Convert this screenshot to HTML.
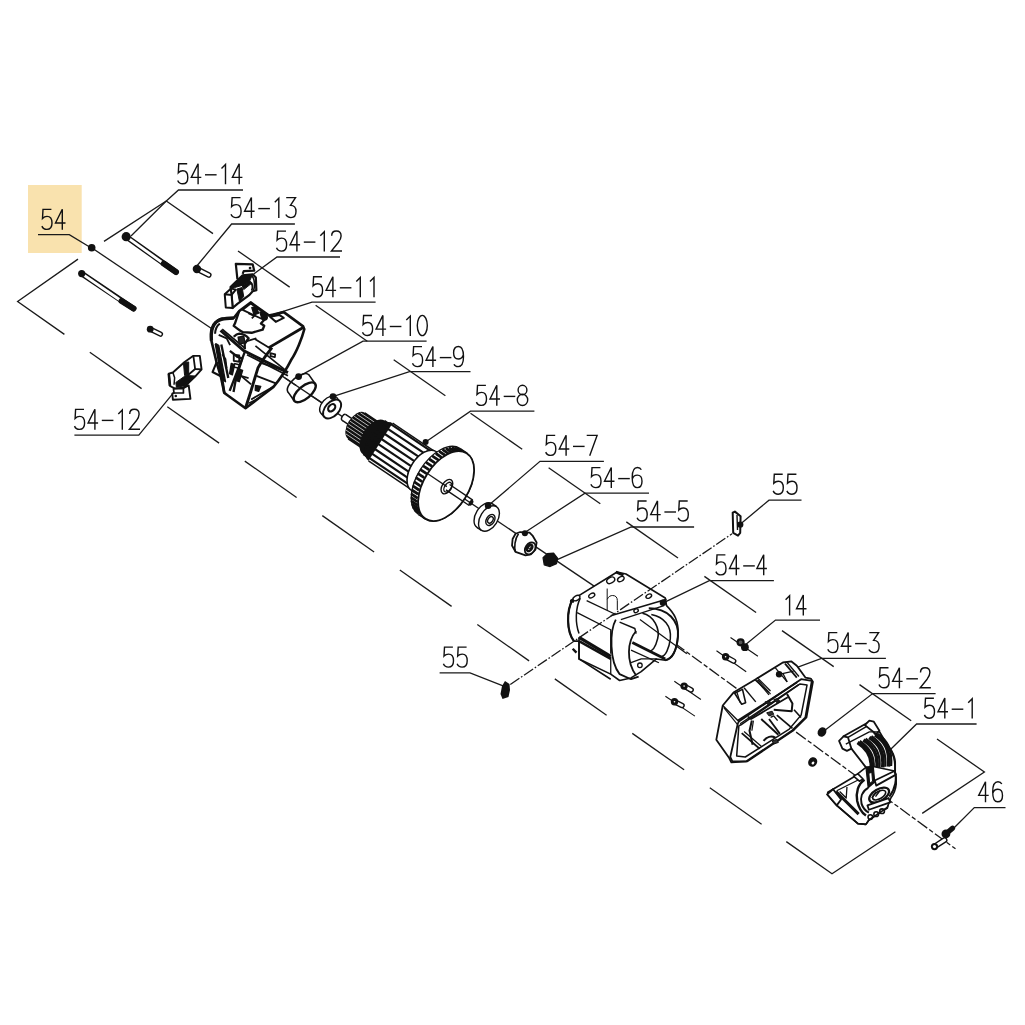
<!DOCTYPE html><html><head><meta charset="utf-8"><style>html,body{margin:0;padding:0;background:#fff;width:1025px;height:1025px;overflow:hidden;font-family:"Liberation Sans",sans-serif}svg{display:block}.t use{fill:none;stroke:#111;stroke-width:1.4}.l{fill:none;stroke:#1a1a1a;stroke-width:1.3}.p{fill:none;stroke:#111;stroke-width:1.4;stroke-linejoin:round}.pw{fill:#fff;stroke:#111;stroke-width:1.4;stroke-linejoin:round}.k{fill:#111}.dd{fill:none;stroke:#1a1a1a;stroke-width:1.3;stroke-dasharray:11 2 1.6 2}</style></head><body>
<svg width="1025" height="1025" viewBox="0 0 1025 1025">
<defs>
<g id="g5"><path d="M10,0.6 H1.6 L1.1,9.6 C2.4,8.2 3.9,7.6 5.6,7.6 C8.8,7.6 10.6,10.2 10.6,14.2 C10.6,18.4 8.6,20.6 5.5,20.6 C3.2,20.6 1.4,19.4 0.5,17.3"/></g>
<g id="g4"><path d="M7.2,21 V0.5 L0.4,14.2 H10.4"/></g>
<g id="gd"><path d="M0.4,11.6 H12"/></g>
<g id="g8"><ellipse cx="5.5" cy="5.2" rx="4.4" ry="4.7"/><ellipse cx="5.5" cy="15.1" rx="5.2" ry="5.6"/></g>
<g id="g1"><path d="M3.2,5.2 L7.2,1.2 V21"/></g>
<g id="g2"><path d="M0.9,5.2 C0.9,2.2 2.8,0.5 5.5,0.5 C8.4,0.5 10.3,2.5 10.3,5.4 C10.3,8 9,10 7.5,12 L0.6,20.5 H11.2"/></g>
<g id="g3"><path d="M0.9,0.6 H10.2 L5.2,8.4 C8.7,8.4 10.7,10.8 10.7,14.5 C10.7,18.5 8.6,20.6 5.6,20.6 C3.2,20.6 1.5,19.5 0.5,17.5"/></g>
<g id="g0"><ellipse cx="5.5" cy="10.6" rx="5" ry="10.1"/></g>
<g id="g6"><path d="M9.8,2.8 C9.1,1.3 7.7,0.5 6,0.5 C2.6,0.5 0.7,4 0.7,10.5 C0.7,17.5 2.6,20.6 5.6,20.6 C8.7,20.6 10.5,18 10.5,14.2 C10.5,10.4 8.6,8.1 5.8,8.1 C3.5,8.1 1.6,9.5 0.8,12"/></g>
<g id="g7"><path d="M0.4,0.6 H10.8 L3.4,21"/></g>
<g id="g9"><path d="M0.9,18.2 C1.6,19.8 3,20.6 5,20.6 C8.5,20.6 10.4,17 10.4,10.5 C10.4,3.5 8.4,0.5 5.4,0.5 C2.3,0.5 0.5,3 0.5,6.8 C0.5,10.6 2.4,13 5.2,13 C7.5,13 9.4,11.5 10.2,9"/></g>
</defs>
<rect width="1025" height="1025" fill="#fff"/>
<rect x="28" y="185" width="53.7" height="68" fill="#F9E2AE"/>
<polyline class="l" points="78.0,259.1 17.6,301.5 64.4,334.4"/>
<polyline class="l" points="89.8,352.2 141.6,388.6"/>
<polyline class="l" points="167.3,406.7 219.1,443.1"/>
<polyline class="l" points="244.8,461.1 296.6,497.5"/>
<polyline class="l" points="322.3,515.6 374.1,552.0"/>
<polyline class="l" points="399.8,570.0 451.6,606.4"/>
<polyline class="l" points="477.3,624.5 529.1,660.9"/>
<polyline class="l" points="554.8,678.9 606.6,715.3"/>
<polyline class="l" points="632.3,733.4 684.1,769.8"/>
<polyline class="l" points="709.8,787.8 761.6,824.2"/>
<polyline class="l" points="786.3,841.6 832.0,873.7 895.4,831.7"/>
<polyline class="l" points="922.2,813.4 984.4,772.0 937.0,739.0"/>
<polyline class="l" points="104.0,241.4 166.3,201.0 213.0,233.6"/>
<polyline class="l" points="238.0,251.0 289.7,287.1"/>
<polyline class="l" points="315.6,305.2 367.3,341.2"/>
<polyline class="l" points="393.7,359.7 445.4,395.7"/>
<polyline class="l" points="470.5,413.2 522.2,449.3"/>
<polyline class="l" points="548.6,467.7 600.3,503.8"/>
<polyline class="l" points="626.3,521.9 678.0,558.0"/>
<polyline class="l" points="704.4,576.4 756.1,612.5"/>
<polyline class="l" points="782.0,630.6 833.7,666.6"/>
<polyline class="l" points="859.5,684.6 911.2,720.7"/>
<polyline class="l" points="91.7,247.8 596.0,587.4"/>
<g class="t"><use href="#g5" x="41.4" y="208.8"/><use href="#g4" x="55.1" y="208.8"/></g>
<polyline class="l" points="38.0,234.7 69.3,234.7 91.7,248.2"/>
<g class="t"><use href="#g5" x="177.2" y="163.2"/><use href="#g4" x="190.9" y="163.2"/><use href="#gd" x="204.6" y="163.2"/><use href="#g1" x="218.3" y="163.2"/><use href="#g4" x="232.0" y="163.2"/></g>
<polyline class="l" points="243.0,190.0 178.5,190.0 166.3,201.0 131.0,236.0"/>
<g class="t"><use href="#g5" x="230.5" y="197.0"/><use href="#g4" x="244.2" y="197.0"/><use href="#gd" x="257.9" y="197.0"/><use href="#g1" x="271.6" y="197.0"/><use href="#g3" x="285.3" y="197.0"/></g>
<polyline class="l" points="294.9,224.0 231.6,224.0 196.0,267.0"/>
<g class="t"><use href="#g5" x="276.0" y="230.5"/><use href="#g4" x="289.7" y="230.5"/><use href="#gd" x="303.4" y="230.5"/><use href="#g1" x="317.1" y="230.5"/><use href="#g2" x="330.8" y="230.5"/></g>
<polyline class="l" points="340.0,257.0 277.0,257.0 253.7,274.0"/>
<g class="t"><use href="#g5" x="312.0" y="276.2"/><use href="#g4" x="325.7" y="276.2"/><use href="#gd" x="339.4" y="276.2"/><use href="#g1" x="353.1" y="276.2"/><use href="#g1" x="366.8" y="276.2"/></g>
<polyline class="l" points="375.6,302.2 312.0,302.2 264.6,317.3"/>
<g class="t"><use href="#g5" x="362.0" y="314.9"/><use href="#g4" x="375.7" y="314.9"/><use href="#gd" x="389.4" y="314.9"/><use href="#g1" x="403.1" y="314.9"/><use href="#g0" x="416.8" y="314.9"/></g>
<polyline class="l" points="426.6,341.2 363.0,341.2 298.5,376.6"/>
<g class="t"><use href="#g5" x="412.0" y="346.0"/><use href="#g4" x="425.7" y="346.0"/><use href="#gd" x="439.4" y="346.0"/><use href="#g9" x="453.1" y="346.0"/></g>
<polyline class="l" points="470.5,371.7 409.5,371.7 332.7,396.6"/>
<g class="t"><use href="#g5" x="475.9" y="384.8"/><use href="#g4" x="489.6" y="384.8"/><use href="#gd" x="503.3" y="384.8"/><use href="#g8" x="517.0" y="384.8"/></g>
<polyline class="l" points="534.4,411.2 470.5,411.2 425.6,442.0"/>
<g class="t"><use href="#g5" x="545.2" y="434.8"/><use href="#g4" x="558.9" y="434.8"/><use href="#gd" x="572.6" y="434.8"/><use href="#g7" x="586.3" y="434.8"/></g>
<polyline class="l" points="603.9,461.3 540.0,461.3 488.1,505.8"/>
<g class="t"><use href="#g5" x="590.4" y="467.0"/><use href="#g4" x="604.1" y="467.0"/><use href="#gd" x="617.8" y="467.0"/><use href="#g6" x="631.5" y="467.0"/></g>
<polyline class="l" points="649.0,493.1 585.0,493.1 524.4,532.7"/>
<g class="t"><use href="#g5" x="636.6" y="500.4"/><use href="#g4" x="650.3" y="500.4"/><use href="#gd" x="664.0" y="500.4"/><use href="#g5" x="677.7" y="500.4"/></g>
<polyline class="l" points="694.1,527.0 631.2,527.0 557.2,559.7"/>
<g class="t"><use href="#g5" x="772.7" y="473.6"/><use href="#g5" x="786.4" y="473.6"/></g>
<polyline class="l" points="801.5,500.2 769.0,500.2 740.5,523.9"/>
<g class="t"><use href="#g5" x="715.4" y="554.3"/><use href="#g4" x="729.1" y="554.3"/><use href="#gd" x="742.8" y="554.3"/><use href="#g4" x="756.5" y="554.3"/></g>
<polyline class="l" points="773.9,580.7 709.3,580.7 663.8,602.7"/>
<g class="t"><use href="#g1" x="782.4" y="594.5"/><use href="#g4" x="796.1" y="594.5"/></g>
<polyline class="l" points="820.0,620.1 775.5,620.1 743.9,645.9"/>
<g class="t"><use href="#g5" x="827.3" y="632.0"/><use href="#g4" x="841.0" y="632.0"/><use href="#gd" x="854.7" y="632.0"/><use href="#g3" x="868.4" y="632.0"/></g>
<polyline class="l" points="885.9,658.4 821.5,658.4 779.0,674.2"/>
<g class="t"><use href="#g5" x="878.5" y="667.2"/><use href="#g4" x="892.2" y="667.2"/><use href="#gd" x="905.9" y="667.2"/><use href="#g2" x="919.6" y="667.2"/></g>
<polyline class="l" points="935.6,693.6 872.7,693.6 822.3,732.2"/>
<g class="t"><use href="#g5" x="923.9" y="697.6"/><use href="#g4" x="937.6" y="697.6"/><use href="#gd" x="951.3" y="697.6"/><use href="#g1" x="965.0" y="697.6"/></g>
<polyline class="l" points="976.6,724.0 916.6,724.0 890.2,749.8"/>
<g class="t"><use href="#g4" x="978.3" y="781.2"/><use href="#g6" x="992.0" y="781.2"/></g>
<polyline class="l" points="1005.5,807.6 974.3,807.6 952.7,829.3"/>
<g class="t"><use href="#g5" x="442.9" y="646.5"/><use href="#g5" x="456.6" y="646.5"/></g>
<polyline class="l" points="439.6,672.9 470.0,672.9 505.6,686.8"/>
<g class="t"><use href="#g5" x="74.0" y="408.8"/><use href="#g4" x="87.7" y="408.8"/><use href="#gd" x="101.4" y="408.8"/><use href="#g1" x="115.1" y="408.8"/><use href="#g2" x="128.8" y="408.8"/></g>
<polyline class="l" points="74.4,435.2 138.8,435.2 173.2,393.1"/>
<circle class="k" cx="91.7" cy="247.8" r="3.8"/>
<line x1="126.2" y1="236.7" x2="176" y2="272" stroke="#111" stroke-width="5.6000000000000005" stroke-linecap="round"/>
<line x1="126.2" y1="236.7" x2="163.7" y2="263.6" stroke="#fff" stroke-width="2.8000000000000003"/>
<line x1="163.7" y1="263.6" x2="176" y2="272" stroke="#111" stroke-width="6.0" stroke-linecap="round"/>
<circle class="k" cx="126.2" cy="236.7" r="4.6"/>
<line x1="81.7" y1="273.6" x2="133.5" y2="308.5" stroke="#111" stroke-width="5.6000000000000005" stroke-linecap="round"/>
<line x1="81.7" y1="273.6" x2="121.5" y2="301" stroke="#fff" stroke-width="2.8000000000000003"/>
<line x1="121.5" y1="301" x2="133.5" y2="308.5" stroke="#111" stroke-width="6.0" stroke-linecap="round"/>
<circle class="k" cx="81.7" cy="273.6" r="3.6"/>
<line x1="196.9" y1="269" x2="208.8" y2="275" stroke="#111" stroke-width="5.6" stroke-linecap="round"/>
<line x1="196.9" y1="269" x2="208.8" y2="275" stroke="#fff" stroke-width="2.8000000000000003" stroke-linecap="round"/>
<circle class="k" cx="196.9" cy="269" r="4.2"/>
<line x1="150.2" y1="329.2" x2="160.5" y2="334.2" stroke="#111" stroke-width="5.199999999999999" stroke-linecap="round"/>
<line x1="150.2" y1="329.2" x2="160.5" y2="334.2" stroke="#fff" stroke-width="2.4" stroke-linecap="round"/>
<circle class="k" cx="150.2" cy="329.2" r="3.4"/>
<g transform="translate(220 258) scale(0.05268703898840885)" style="stroke-linejoin:round">
<path d="M330,400 L300,110 L620,120 L650,240 L450,250 L430,300" fill="#fff" stroke="#111" stroke-width="2.20" vector-effect="non-scaling-stroke"/>
<circle cx="570" cy="190" r="26" fill="#111"/>
<path d="M200,550 L430,330 L620,310 L680,370 L690,610 L620,630 L560,700 L330,870 L240,950 L220,700 Z" fill="#fff" stroke="#111" stroke-width="2.20" vector-effect="non-scaling-stroke"/>
<path d="M430,330 L620,310 L560,440 L420,520 L280,560 L200,560 Z" fill="#111" stroke="#111" stroke-width="1.00" vector-effect="non-scaling-stroke"/>
<path d="M320,590 L420,560 L450,730 L370,830 Z" fill="#111" stroke="#111" stroke-width="1.00" vector-effect="non-scaling-stroke"/>
<path d="M420,520 L560,440 L600,480 L450,600 Z" fill="#111" stroke="#111" stroke-width="1.00" vector-effect="non-scaling-stroke"/>
<path d="M600,340 C660,380 670,560 630,610" fill="none" stroke="#111" stroke-width="1.60" vector-effect="non-scaling-stroke"/>
<path d="M560,440 C620,480 630,560 600,620" fill="none" stroke="#111" stroke-width="1.80" vector-effect="non-scaling-stroke"/>
<path d="M90,690 L220,700 L240,950 L110,940 Z" fill="#fff" stroke="#111" stroke-width="2.00" vector-effect="non-scaling-stroke"/>
<path d="M90,690 L210,580 L300,600 L220,700" fill="none" stroke="#111" stroke-width="2.00" vector-effect="non-scaling-stroke"/>
</g>
<g transform="translate(160 345) scale(0.0585480093676815)" style="stroke-linejoin:round">
<path d="M210,830 L490,690 L520,920 L220,935 Z" fill="#fff" stroke="#111" stroke-width="1.90" vector-effect="non-scaling-stroke"/>
<circle cx="270" cy="870" r="22" fill="#111"/>
<path d="M150,490 L220,470 L420,290 L570,185 L680,185 L710,415 L600,540 L400,730 L250,740 L170,700 Z" fill="#fff" stroke="#111" stroke-width="1.90" vector-effect="non-scaling-stroke"/>
<path d="M230,750 L400,740 L400,820 L240,820 Z" fill="#fff" stroke="#111" stroke-width="1.70" vector-effect="non-scaling-stroke"/>
<path d="M400,300 L490,290 L490,500 L420,520 Z" fill="#111" stroke="#111" stroke-width="1.00" vector-effect="non-scaling-stroke"/>
<path d="M270,640 L440,520 L600,530 L420,700 L280,720 Z" fill="#111" stroke="#111" stroke-width="1.00" vector-effect="non-scaling-stroke"/>
<path d="M150,490 L170,700" fill="none" stroke="#111" stroke-width="2.60" vector-effect="non-scaling-stroke"/>
<path d="M220,470 L250,560 L240,680" fill="none" stroke="#111" stroke-width="1.50" vector-effect="non-scaling-stroke"/>
<path d="M570,185 L600,410 L710,415" fill="none" stroke="#111" stroke-width="1.80" vector-effect="non-scaling-stroke"/>
<path d="M600,410 L470,520" fill="none" stroke="#111" stroke-width="1.80" vector-effect="non-scaling-stroke"/>
</g>
<g transform="translate(205 295) scale(0.11413)" style="stroke-linejoin:round">
<path d="M400,65 L540,165 L560,180 L600,170 L690,150 L860,275 L870,300 C850,380 800,500 760,560 C720,640 690,700 600,805 L470,905 L355,992 L200,880 L169,858 L140,720 L100,585 L56,400 C50,330 60,270 95,240 C120,215 150,205 165,208 L252,201 L300,140 Z" fill="#fff" stroke="#111" stroke-width="2.60" vector-effect="non-scaling-stroke"/>
<path d="M56,400 C50,330 60,270 95,240 C120,215 150,205 252,201" fill="none" stroke="#111" stroke-width="3.38" vector-effect="non-scaling-stroke"/>
<path d="M130,250 C100,270 90,300 88,340" fill="none" stroke="#111" stroke-width="2.08" vector-effect="non-scaling-stroke"/>
<path d="M300,140 L262,250 L252,270 C290,300 320,322 334,325 L409,331 L505,304 L519,270 L490,250 L540,195" fill="none" stroke="#111" stroke-width="2.34" vector-effect="non-scaling-stroke"/>
<path d="M330,130 L400,75 L530,165 L510,215 Z" fill="none" stroke="#111" stroke-width="1.82" vector-effect="non-scaling-stroke"/>
<path d="M410,110 L450,100 L470,160 L430,175 Z" fill="#111" stroke="#111" stroke-width="1.30" vector-effect="non-scaling-stroke"/>
<path d="M480,150 L510,145 L525,185 L495,195 Z" fill="#111" stroke="#111" stroke-width="1.30" vector-effect="non-scaling-stroke"/>
<path d="M380,160 L430,185 L410,205" fill="none" stroke="#111" stroke-width="1.69" vector-effect="non-scaling-stroke"/>
<path d="M570,190 L650,175 L690,200 L620,235 Z" fill="none" stroke="#111" stroke-width="2.08" vector-effect="non-scaling-stroke"/>
<path d="M136,311 L341,489 L727,680" fill="none" stroke="#111" stroke-width="2.86" vector-effect="non-scaling-stroke"/>
<path d="M150,300 L355,470" fill="none" stroke="#111" stroke-width="1.82" vector-effect="non-scaling-stroke"/>
<path d="M368,523 L727,708" fill="none" stroke="#111" stroke-width="1.82" vector-effect="non-scaling-stroke"/>
<path d="M252,366 C270,345 285,338 300,338 C330,340 354,345 382,379 L348,427 L348,475" fill="none" stroke="#111" stroke-width="2.34" vector-effect="non-scaling-stroke"/>
<path d="M290,370 L340,360 L350,420 L300,430 Z" fill="#222" stroke="#111" stroke-width="1.30" vector-effect="non-scaling-stroke"/>
<path d="M361,407 L450,379" fill="none" stroke="#111" stroke-width="1.82" vector-effect="non-scaling-stroke"/>
<path d="M437,386 L573,468" fill="none" stroke="#111" stroke-width="1.82" vector-effect="non-scaling-stroke"/>
<path d="M860,285 L560,461" fill="none" stroke="#111" stroke-width="2.86" vector-effect="non-scaling-stroke"/>
<path d="M587,461 C540,520 490,590 464,639 L437,727 L400,850 L355,990" fill="none" stroke="#111" stroke-width="2.86" vector-effect="non-scaling-stroke"/>
<path d="M573,509 L615,520 L612,544 L575,535 Z" fill="none" stroke="#111" stroke-width="1.82" vector-effect="non-scaling-stroke"/>
<path d="M282,680 L404,783" fill="none" stroke="#111" stroke-width="1.82" vector-effect="non-scaling-stroke"/>
<path d="M442,445 L696,651" fill="none" stroke="#111" stroke-width="1.69" vector-effect="non-scaling-stroke"/>
<path d="M489,595 L686,661" fill="none" stroke="#111" stroke-width="1.82" vector-effect="non-scaling-stroke"/>
<path d="M451,708 L621,774" fill="none" stroke="#111" stroke-width="1.82" vector-effect="non-scaling-stroke"/>
<path d="M404,915 L602,802" fill="none" stroke="#111" stroke-width="1.82" vector-effect="non-scaling-stroke"/>
<path d="M442,792 L489,800 L470,845 L440,835 Z" fill="#111" stroke="#111" stroke-width="1.30" vector-effect="non-scaling-stroke"/>
<path d="M380,950 L470,905" fill="none" stroke="#111" stroke-width="1.56" vector-effect="non-scaling-stroke"/>
<path d="M95,427 L149,727 L169,858" fill="none" stroke="#111" stroke-width="2.60" vector-effect="non-scaling-stroke"/>
<path d="M143,434 L204,727" fill="none" stroke="#111" stroke-width="2.34" vector-effect="non-scaling-stroke"/>
<path d="M218,489 L286,543 L327,557 L272,727 L250,850" fill="none" stroke="#111" stroke-width="2.34" vector-effect="non-scaling-stroke"/>
<path d="M252,523 L300,530 L300,585 L252,578 Z" fill="none" stroke="#111" stroke-width="1.82" vector-effect="non-scaling-stroke"/>
<path d="M255,600 L300,612 M252,630 L298,642" fill="none" stroke="#111" stroke-width="1.56" vector-effect="non-scaling-stroke"/>
<path d="M348,501 L216,840" fill="none" stroke="#111" stroke-width="2.34" vector-effect="non-scaling-stroke"/>
<path d="M103,586 L66,675 L169,727" fill="none" stroke="#111" stroke-width="2.08" vector-effect="non-scaling-stroke"/>
<path d="M266,694 L382,728" fill="none" stroke="#111" stroke-width="1.69" vector-effect="non-scaling-stroke"/>
<path d="M120,350 L190,380 L220,440" fill="none" stroke="#111" stroke-width="1.82" vector-effect="non-scaling-stroke"/>
<path d="M150,520 L180,560 L190,640" fill="none" stroke="#111" stroke-width="1.56" vector-effect="non-scaling-stroke"/>
<path d="M95,427 L120,440 L180,760 L150,740 Z" fill="#111" stroke="#111" stroke-width="1.30" vector-effect="non-scaling-stroke"/>
<path d="M230,600 L260,610 L240,700 L215,690 Z" fill="#111" stroke="#111" stroke-width="1.30" vector-effect="non-scaling-stroke"/>
<path d="M300,650 L330,660 L300,760 L275,750 Z" fill="#111" stroke="#111" stroke-width="1.30" vector-effect="non-scaling-stroke"/>
</g>
<circle class="k" cx="264.6" cy="317.3" r="3.4"/>
<ellipse class="p" cx="298.4" cy="383.4" rx="13.5" ry="6.2" transform="rotate(-40 298.4 383.4)" style="stroke-width:1.6"/>
<polygon class="pw" points="308.9,374.9 315.2,383.8 294.2,400.8 287.9,391.9" style="stroke:none"/>
<ellipse class="pw" cx="304.7" cy="392.3" rx="13.5" ry="6.2" transform="rotate(-40 304.7 392.3)" style="stroke:none"/>
<polyline class="p" points="308.9,374.9 315.2,383.8" style="stroke-width:1.6"/>
<polyline class="p" points="287.9,391.9 294.2,400.8" style="stroke-width:1.6"/>
<polyline class="l" points="285.0,378.0 322.0,402.9"/>
<ellipse class="p" cx="304.7" cy="392.3" rx="13.5" ry="6.2" transform="rotate(-40 304.7 392.3)" style="stroke-width:2.4"/>
<circle class="k" cx="298.6" cy="376.6" r="3.4"/>
<ellipse class="pw" cx="328.7" cy="405.4" rx="11.1" ry="6.9" transform="rotate(-47.5 328.7 405.4)" />
<polygon class="pw" points="336.5,397.5 339.9,401.2 324.3,417.0 320.9,413.3" style="stroke:none"/>
<polyline class="p" points="336.5,397.5 339.9,401.2" />
<polyline class="p" points="324.3,417.0 320.9,413.3" />
<ellipse class="pw" cx="332.1" cy="409.1" rx="11.1" ry="6.9" transform="rotate(-47.5 332.1 409.1)" style="stroke-width:1.9"/>
<ellipse class="p" cx="331.7" cy="407.8" rx="4.2" ry="2.9" transform="rotate(-47.5 331.7 407.8)" style="stroke-width:2.2"/>
<ellipse class="pw" cx="331.7" cy="407.8" rx="1.6" ry="1.1" transform="rotate(-47.5 331.7 407.8)" style="stroke:none"/>
<circle class="k" cx="333.0" cy="396.6" r="3.4"/>
<ellipse class="pw" cx="344.0" cy="417.4" rx="3.4" ry="2.0" transform="rotate(-58 344.0 417.4)" />
<polygon class="pw" points="345.9,414.6 358.3,422.9 354.6,428.7 342.2,420.3" style="stroke:none"/>
<polyline class="p" points="345.9,414.6 358.3,422.9" />
<polyline class="p" points="354.6,428.7 342.2,420.3" />
<ellipse class="pw" cx="356.5" cy="425.8" rx="3.4" ry="2.0" transform="rotate(-58 356.5 425.8)" />
<ellipse class="k" cx="356.5" cy="425.8" rx="15.5" ry="9.0" transform="rotate(-58 356.5 425.8)" />
<polygon class="k" points="364.8,412.8 383.1,425.0 366.4,451.1 348.1,438.9" style="stroke:none"/>
<polyline class="p" points="364.8,412.8 383.1,425.0" />
<polyline class="p" points="366.4,451.1 348.1,438.9" />
<ellipse class="k" cx="374.7" cy="438.1" rx="15.5" ry="9.0" transform="rotate(-58 374.7 438.1)" />
<line x1="360.5" y1="412.8" x2="376.3" y2="423.4" stroke="#fff" stroke-width="0.7"/>
<line x1="357.0" y1="414.3" x2="372.8" y2="424.9" stroke="#fff" stroke-width="0.7"/>
<line x1="354.2" y1="416.3" x2="370.0" y2="426.9" stroke="#fff" stroke-width="0.7"/>
<line x1="351.9" y1="418.6" x2="367.7" y2="429.2" stroke="#fff" stroke-width="0.7"/>
<line x1="350.0" y1="421.2" x2="365.7" y2="431.8" stroke="#fff" stroke-width="0.7"/>
<line x1="348.3" y1="423.9" x2="364.1" y2="434.5" stroke="#fff" stroke-width="0.7"/>
<line x1="347.0" y1="426.9" x2="362.8" y2="437.5" stroke="#fff" stroke-width="0.7"/>
<line x1="346.1" y1="430.2" x2="361.9" y2="440.8" stroke="#fff" stroke-width="0.7"/>
<line x1="345.9" y1="433.9" x2="361.7" y2="444.5" stroke="#fff" stroke-width="0.7"/>
<ellipse class="k" cx="373.9" cy="437.5" rx="20.0" ry="11.6" transform="rotate(-58 373.9 437.5)" />
<polygon class="k" points="384.7,420.7 393.0,426.3 371.4,459.9 363.1,454.4" style="stroke:none"/>
<polyline class="p" points="384.7,420.7 393.0,426.3" />
<polyline class="p" points="371.4,459.9 363.1,454.4" />
<ellipse class="k" cx="382.2" cy="443.1" rx="20.0" ry="11.6" transform="rotate(-58 382.2 443.1)" />
<ellipse cx="382.2" cy="432.3" rx="2.4" ry="1.5" fill="#fff" transform="rotate(34 382.2 432.3)"/>
<ellipse cx="379.2" cy="442.3" rx="2.4" ry="1.5" fill="#fff" transform="rotate(34 379.2 442.3)"/>
<ellipse cx="373.0" cy="447.8" rx="2.4" ry="1.5" fill="#fff" transform="rotate(34 373.0 447.8)"/>
<ellipse cx="389.7" cy="430.1" rx="2.4" ry="1.5" fill="#fff" transform="rotate(34 389.7 430.1)"/>
<ellipse cx="385.3" cy="440.3" rx="2.4" ry="1.5" fill="#fff" transform="rotate(34 385.3 440.3)"/>
<ellipse class="k" cx="380.5" cy="442.0" rx="22.3" ry="12.9" transform="rotate(-58 380.5 442.0)" />
<polygon class="pw" points="392.6,423.2 435.7,452.2 411.7,489.8 368.5,460.8" style="stroke:none"/>
<polyline class="p" points="392.6,423.2 435.7,452.2" />
<polyline class="p" points="411.7,489.8 368.5,460.8" />
<ellipse class="pw" cx="423.7" cy="471.0" rx="22.3" ry="12.9" transform="rotate(-58 423.7 471.0)" />
<line x1="389.4" y1="423.2" x2="430.9" y2="451.1" stroke="#111" stroke-width="2.2"/>
<line x1="382.6" y1="425.3" x2="424.1" y2="453.2" stroke="#111" stroke-width="2.2"/>
<line x1="377.4" y1="429.0" x2="418.9" y2="456.9" stroke="#111" stroke-width="2.2"/>
<line x1="373.2" y1="433.5" x2="414.7" y2="461.4" stroke="#111" stroke-width="2.2"/>
<line x1="369.9" y1="438.4" x2="411.4" y2="466.3" stroke="#111" stroke-width="2.2"/>
<line x1="367.4" y1="444.0" x2="408.9" y2="471.9" stroke="#111" stroke-width="2.2"/>
<line x1="366.0" y1="449.7" x2="407.5" y2="477.6" stroke="#111" stroke-width="2.2"/>
<line x1="366.1" y1="455.8" x2="407.6" y2="483.7" stroke="#111" stroke-width="2.2"/>
<ellipse class="p" cx="423.7" cy="471.0" rx="22.3" ry="12.9" transform="rotate(-58 423.7 471.0)" style="stroke-width:2.2"/>
<ellipse class="pw" cx="423.7" cy="471.0" rx="23.0" ry="13.3" transform="rotate(-58 423.7 471.0)" />
<polygon class="pw" points="436.1,451.6 447.7,459.4 422.9,498.2 411.3,490.4" style="stroke:none"/>
<polyline class="p" points="436.1,451.6 447.7,459.4" />
<polyline class="p" points="422.9,498.2 411.3,490.4" />
<ellipse class="pw" cx="435.3" cy="478.8" rx="23.0" ry="13.3" transform="rotate(-58 435.3 478.8)" />
<ellipse class="pw" cx="439.5" cy="481.6" rx="39.0" ry="22.6" transform="rotate(-58 439.5 481.6)" />
<polygon class="pw" points="460.5,448.8 467.1,453.2 425.1,518.9 418.4,514.4" style="stroke:none"/>
<polyline class="p" points="460.5,448.8 467.1,453.2" />
<polyline class="p" points="425.1,518.9 418.4,514.4" />
<ellipse class="pw" cx="446.1" cy="486.1" rx="39.0" ry="22.6" transform="rotate(-58 446.1 486.1)" />
<line x1="415.3" y1="510.2" x2="419.9" y2="513.2" stroke="#111" stroke-width="2.8" stroke-linecap="round"/>
<line x1="413.9" y1="507.7" x2="418.4" y2="510.8" stroke="#111" stroke-width="2.8" stroke-linecap="round"/>
<line x1="412.8" y1="504.8" x2="417.4" y2="507.9" stroke="#111" stroke-width="2.8" stroke-linecap="round"/>
<line x1="412.1" y1="501.6" x2="416.7" y2="504.7" stroke="#111" stroke-width="2.8" stroke-linecap="round"/>
<line x1="411.9" y1="498.1" x2="416.4" y2="501.2" stroke="#111" stroke-width="2.8" stroke-linecap="round"/>
<line x1="412.0" y1="494.4" x2="416.6" y2="497.5" stroke="#111" stroke-width="2.8" stroke-linecap="round"/>
<line x1="412.6" y1="490.5" x2="417.2" y2="493.5" stroke="#111" stroke-width="2.8" stroke-linecap="round"/>
<line x1="413.6" y1="486.4" x2="418.2" y2="489.5" stroke="#111" stroke-width="2.8" stroke-linecap="round"/>
<line x1="415.0" y1="482.3" x2="419.5" y2="485.4" stroke="#111" stroke-width="2.8" stroke-linecap="round"/>
<line x1="416.7" y1="478.2" x2="421.3" y2="481.2" stroke="#111" stroke-width="2.8" stroke-linecap="round"/>
<line x1="418.8" y1="474.1" x2="423.4" y2="477.2" stroke="#111" stroke-width="2.8" stroke-linecap="round"/>
<line x1="421.2" y1="470.1" x2="425.8" y2="473.2" stroke="#111" stroke-width="2.8" stroke-linecap="round"/>
<line x1="423.9" y1="466.4" x2="428.5" y2="469.4" stroke="#111" stroke-width="2.8" stroke-linecap="round"/>
<line x1="426.8" y1="462.8" x2="431.4" y2="465.9" stroke="#111" stroke-width="2.8" stroke-linecap="round"/>
<line x1="429.9" y1="459.5" x2="434.5" y2="462.6" stroke="#111" stroke-width="2.8" stroke-linecap="round"/>
<line x1="433.2" y1="456.6" x2="437.8" y2="459.7" stroke="#111" stroke-width="2.8" stroke-linecap="round"/>
<line x1="436.6" y1="454.0" x2="441.1" y2="457.1" stroke="#111" stroke-width="2.8" stroke-linecap="round"/>
<line x1="440.0" y1="451.9" x2="444.6" y2="455.0" stroke="#111" stroke-width="2.8" stroke-linecap="round"/>
<line x1="443.4" y1="450.2" x2="448.0" y2="453.3" stroke="#111" stroke-width="2.8" stroke-linecap="round"/>
<line x1="446.8" y1="449.0" x2="451.3" y2="452.1" stroke="#111" stroke-width="2.8" stroke-linecap="round"/>
<line x1="450.0" y1="448.3" x2="454.6" y2="451.3" stroke="#111" stroke-width="2.8" stroke-linecap="round"/>
<line x1="453.1" y1="448.0" x2="457.7" y2="451.1" stroke="#111" stroke-width="2.8" stroke-linecap="round"/>
<line x1="456.0" y1="448.3" x2="460.6" y2="451.4" stroke="#111" stroke-width="2.8" stroke-linecap="round"/>
<line x1="458.7" y1="449.1" x2="463.3" y2="452.1" stroke="#111" stroke-width="2.8" stroke-linecap="round"/>
<ellipse class="pw" cx="446.1" cy="486.1" rx="38.5" ry="22.3" transform="rotate(-58 446.1 486.1)" style="stroke-width:1.5"/>
<polyline class="l" points="427.8,473.8 446.9,486.6"/>
<ellipse class="p" cx="446.9" cy="486.6" rx="8.0" ry="4.8" transform="rotate(-58 446.9 486.6)" />
<ellipse class="p" cx="447.8" cy="487.2" rx="5.4" ry="3.2" transform="rotate(-58 447.8 487.2)" />
<polyline class="p" points="446.0,489.8 469.2,505.5" />
<polyline class="p" points="449.6,484.5 472.8,500.2" />
<ellipse class="k" cx="471.0" cy="502.8" rx="3.2" ry="2.0" transform="rotate(-58 471.0 502.8)" />
<circle class="k" cx="425.6" cy="442.0" r="3"/>
<ellipse class="pw" cx="484.5" cy="515.5" rx="14.0" ry="8.7" transform="rotate(-58 484.5 515.5)" />
<polygon class="pw" points="492.1,503.7 496.6,506.7 481.4,530.3 476.9,527.3" style="stroke:none"/>
<polyline class="p" points="492.1,503.7 496.6,506.7" />
<polyline class="p" points="481.4,530.3 476.9,527.3" />
<ellipse class="pw" cx="489.0" cy="518.5" rx="14.0" ry="8.7" transform="rotate(-58 489.0 518.5)" />
<ellipse class="p" cx="490.4" cy="519.9" rx="6.0" ry="4.0" transform="rotate(-58 490.4 519.9)" />
<ellipse class="p" cx="490.4" cy="519.9" rx="3.6" ry="2.4" transform="rotate(-58 490.4 519.9)" />
<circle class="k" cx="488.1" cy="505.8" r="3.3"/>
<g transform="translate(505 525) scale(0.0585480093676815)" style="stroke-linejoin:round">
<path d="M180,150 L260,120 L420,130 L470,180 L540,300 L520,420 L440,500 L350,520 L180,460 L120,350 L130,240 Z" fill="#fff" stroke="#111" stroke-width="1.80" vector-effect="non-scaling-stroke"/>
<path d="M230,150 C170,240 150,380 180,460" fill="none" stroke="#111" stroke-width="1.60" vector-effect="non-scaling-stroke"/>
<ellipse cx="430" cy="400" rx="112" ry="80" fill="#fff" stroke="#111" stroke-width="1.8" vector-effect="non-scaling-stroke" transform="rotate(-55 430 400)"/>
<ellipse cx="420" cy="390" rx="62" ry="40" fill="none" stroke="#111" stroke-width="2.4" vector-effect="non-scaling-stroke" transform="rotate(-55 420 390)"/>
<ellipse cx="425" cy="380" rx="30" ry="18" fill="none" stroke="#111" stroke-width="1.2" vector-effect="non-scaling-stroke" transform="rotate(-55 425 380)"/>
<circle cx="340" cy="140" r="52" fill="#111"/>
<path d="M650,560 L720,490 L830,480 L900,570 L880,660 L770,710 L670,680 Z" fill="#111" stroke="#111" stroke-width="1.20" vector-effect="non-scaling-stroke"/>
<path d="M700,560 L760,540 L740,640" fill="none" stroke="#111" stroke-width="1.00" vector-effect="non-scaling-stroke"/>
</g>
<line class="dd" x1="640" y1="617.8" x2="955.5" y2="848.8" style="stroke-dasharray:12 2.5 4.5 2.5"/>
<g transform="translate(560 560) scale(0.12682308180088778)" style="stroke-linejoin:round">
<path d="M85,320 L450,95 L520,110 L830,300 L840,360 C900,420 940,480 930,600 C920,720 880,780 830,790 L760,780 L640,880 L560,930 L470,950 L400,900 L150,780 L150,640 L110,640 C50,560 50,400 100,310 Z" fill="#fff" stroke="#111" stroke-width="1.60" vector-effect="non-scaling-stroke"/>
<line x1="630" y1="470" x2="1000" y2="740" stroke="#111" stroke-width="1.2" stroke-dasharray="95 20 35 20" vector-effect="non-scaling-stroke"/>
<path d="M100,310 C50,400 50,560 110,640" fill="none" stroke="#111" stroke-width="2.20" vector-effect="non-scaling-stroke"/>
<path d="M160,300 C120,380 120,500 150,580" fill="none" stroke="#111" stroke-width="1.50" vector-effect="non-scaling-stroke"/>
<path d="M210,320 L440,430" fill="none" stroke="#111" stroke-width="1.30" vector-effect="non-scaling-stroke"/>
<path d="M135,415 L400,550 L400,740" fill="none" stroke="#111" stroke-width="1.30" vector-effect="non-scaling-stroke"/>
<path d="M400,440 L840,310" fill="none" stroke="#111" stroke-width="1.50" vector-effect="non-scaling-stroke"/>
<path d="M480,470 L820,360" fill="none" stroke="#111" stroke-width="1.30" vector-effect="non-scaling-stroke"/>
<path d="M150,610 L400,760" fill="none" stroke="#111" stroke-width="3.20" vector-effect="non-scaling-stroke"/>
<path d="M150,640 L400,780" fill="none" stroke="#111" stroke-width="2.40" vector-effect="non-scaling-stroke"/>
<path d="M150,610 L150,780 L400,940" fill="none" stroke="#111" stroke-width="1.60" vector-effect="non-scaling-stroke"/>
<path d="M400,760 L400,900" fill="none" stroke="#111" stroke-width="1.30" vector-effect="non-scaling-stroke"/>
<path d="M100,700 L130,730" fill="none" stroke="#111" stroke-width="2.40" vector-effect="non-scaling-stroke"/>
<path d="M440,470 C390,560 390,800 470,900 L560,940 L620,920" fill="none" stroke="#111" stroke-width="1.80" vector-effect="non-scaling-stroke"/>
<path d="M600,560 C530,640 520,800 600,910" fill="none" stroke="#111" stroke-width="1.80" vector-effect="non-scaling-stroke"/>
<path d="M470,490 L590,540 L600,580" fill="none" stroke="#111" stroke-width="1.50" vector-effect="non-scaling-stroke"/>
<path d="M700,380 C850,380 940,480 930,600 C920,720 880,780 830,790" fill="none" stroke="#111" stroke-width="2.00" vector-effect="non-scaling-stroke"/>
<path d="M720,430 C820,450 880,520 870,620 C860,700 830,760 800,760" fill="none" stroke="#111" stroke-width="1.50" vector-effect="non-scaling-stroke"/>
<path d="M650,420 C740,440 790,540 770,620 C750,700 720,720 700,720" fill="none" stroke="#111" stroke-width="1.60" vector-effect="non-scaling-stroke"/>
<path d="M570,650 L830,780" fill="none" stroke="#111" stroke-width="2.80" vector-effect="non-scaling-stroke"/>
<path d="M560,710 L780,810" fill="none" stroke="#111" stroke-width="1.30" vector-effect="non-scaling-stroke"/>
<path d="M560,810 L640,780 L760,780" fill="none" stroke="#111" stroke-width="1.30" vector-effect="non-scaling-stroke"/>
<circle cx="630" cy="830" r="18" fill="none" stroke="#111" stroke-width="1.3" vector-effect="non-scaling-stroke"/>
<ellipse cx="400" cy="160" rx="34" ry="22" fill="#fff" stroke="#111" stroke-width="1.4" vector-effect="non-scaling-stroke" transform="rotate(-30 400 160)"/>
<ellipse cx="480" cy="150" rx="28" ry="18" fill="#fff" stroke="#111" stroke-width="1.4" vector-effect="non-scaling-stroke" transform="rotate(-30 480 150)"/>
<ellipse cx="250" cy="280" rx="26" ry="16" fill="#fff" stroke="#111" stroke-width="1.4" vector-effect="non-scaling-stroke" transform="rotate(-30 250 280)"/>
<ellipse cx="130" cy="300" rx="30" ry="18" fill="#fff" stroke="#111" stroke-width="1.4" vector-effect="non-scaling-stroke" transform="rotate(-30 130 300)"/>
<ellipse cx="600" cy="400" rx="18" ry="14" fill="#fff" stroke="#111" stroke-width="1.4" vector-effect="non-scaling-stroke" transform="rotate(-30 600 400)"/>
<ellipse cx="700" cy="285" rx="24" ry="15" fill="#fff" stroke="#111" stroke-width="1.4" vector-effect="non-scaling-stroke" transform="rotate(-30 700 285)"/>
<path d="M440,95 L500,120" fill="none" stroke="#111" stroke-width="2.60" vector-effect="non-scaling-stroke"/>
<path d="M80,320 L110,330" fill="none" stroke="#111" stroke-width="2.40" vector-effect="non-scaling-stroke"/>
<path d="M372,225 V395 M372,310 C385,285 400,280 415,280 C440,280 452,295 452,320 V395" fill="none" stroke="#111" stroke-width="1.00" vector-effect="non-scaling-stroke"/>
</g>
<circle class="k" cx="663.0" cy="602.8" r="3.3"/>
<line class="dd" x1="510.3" y1="684.5" x2="732" y2="533.8"/>
<path class="pw" d="M732.7,512.7 L734.9,511.6 L740.6,516.2 L740.2,532.9 L738,535.6 L733.2,532.9 Z" style="stroke-width:2"/>
<polyline class="p" points="737.0,515.0 737.5,530.0" />
<circle class="k" cx="740.2" cy="524.6" r="3.2"/>
<path class="k" d="M505,681 L509.5,684 L510,690 L508.5,697 L502.5,699 L500.5,694 L502,686 Z" />
<line x1="716.5" y1="650.7" x2="746.2" y2="671.8" stroke="#111" stroke-width="1.1"/>
<line x1="725.6" y1="656.8" x2="733.6" y2="661.1" stroke="#111" stroke-width="5.6" stroke-linecap="round"/>
<line x1="725.6" y1="656.8" x2="733.6" y2="661.1" stroke="#fff" stroke-width="2.8000000000000003" stroke-linecap="round"/>
<circle class="k" cx="725.6" cy="656.8" r="3.7"/>
<circle cx="725.6" cy="656.8" r="0.8" fill="#fff"/>
<line x1="674.3" y1="681.2" x2="700.9" y2="699.5" stroke="#111" stroke-width="1.1"/>
<line x1="684.1" y1="686.1" x2="691.1" y2="689.9" stroke="#111" stroke-width="5.6" stroke-linecap="round"/>
<line x1="684.1" y1="686.1" x2="691.1" y2="689.9" stroke="#fff" stroke-width="2.8000000000000003" stroke-linecap="round"/>
<circle class="k" cx="684.1" cy="686.1" r="3.7"/>
<circle cx="684.1" cy="686.1" r="0.8" fill="#fff"/>
<line x1="665.4" y1="696.3" x2="694.9" y2="716.1" stroke="#111" stroke-width="1.1"/>
<line x1="674.5" y1="701.7" x2="682" y2="705.4" stroke="#111" stroke-width="5.6" stroke-linecap="round"/>
<line x1="674.5" y1="701.7" x2="682" y2="705.4" stroke="#fff" stroke-width="2.8000000000000003" stroke-linecap="round"/>
<circle class="k" cx="674.5" cy="701.7" r="3.7"/>
<circle cx="674.5" cy="701.7" r="0.8" fill="#fff"/>
<line x1="730.5" y1="637.5" x2="757.9" y2="656.2" stroke="#111" stroke-width="1.1"/>
<circle cx="744.9" cy="647.2" r="3.9" fill="#111"/>
<circle cx="740.6" cy="642.3" r="3.0" fill="#555" stroke="#111" stroke-width="2.2"/>
<g transform="translate(712 655) scale(0.10736525660296328)" style="stroke-linejoin:round">
<path d="M660,70 L740,60 L790,100 L870,210 L920,220 L940,250 L880,580 L760,700 L330,990 L180,1000 L160,960 L40,790 L100,470 L200,350 L400,230 Z" fill="#fff" stroke="#111" stroke-width="1.80" vector-effect="non-scaling-stroke"/>
<path d="M100,470 L250,620" fill="none" stroke="#111" stroke-width="1.40" vector-effect="non-scaling-stroke"/>
<path d="M110,490 L240,650" fill="none" stroke="#111" stroke-width="1.20" vector-effect="non-scaling-stroke"/>
<path d="M250,620 L830,225 L930,240 L870,580 L750,700 L320,990 L190,990 L170,950 L240,640 Z" fill="none" stroke="#111" stroke-width="1.80" vector-effect="non-scaling-stroke"/>
<path d="M270,650 L820,270 L885,280 L830,560 L720,690 L310,950 L230,940 L250,660 Z" fill="none" stroke="#111" stroke-width="1.50" vector-effect="non-scaling-stroke"/>
<path d="M400,230 L530,350" fill="none" stroke="#111" stroke-width="1.30" vector-effect="non-scaling-stroke"/>
<path d="M420,210 L545,335" fill="none" stroke="#111" stroke-width="1.30" vector-effect="non-scaling-stroke"/>
<path d="M590,120 L700,250" fill="none" stroke="#111" stroke-width="1.30" vector-effect="non-scaling-stroke"/>
<path d="M680,80 L790,210" fill="none" stroke="#111" stroke-width="1.80" vector-effect="non-scaling-stroke"/>
<path d="M700,70 L810,200" fill="none" stroke="#111" stroke-width="1.30" vector-effect="non-scaling-stroke"/>
<path d="M625,180 L760,150" fill="none" stroke="#111" stroke-width="1.30" vector-effect="non-scaling-stroke"/>
<path d="M660,170 L700,250" fill="none" stroke="#111" stroke-width="1.30" vector-effect="non-scaling-stroke"/>
<circle cx="625" cy="180" r="30" fill="#111"/>
</g>
<g transform="translate(730 680) scale(0.078064012490242)" style="stroke-linejoin:round">
<path d="M60,170 L160,120 L200,290 L150,310 Z" fill="none" stroke="#111" stroke-width="1.60" vector-effect="non-scaling-stroke"/>
<path d="M90,160 L130,290" fill="none" stroke="#111" stroke-width="1.20" vector-effect="non-scaling-stroke"/>
<path d="M180,100 L330,280" fill="none" stroke="#111" stroke-width="1.40" vector-effect="non-scaling-stroke"/>
<path d="M340,0 L500,190" fill="none" stroke="#111" stroke-width="1.40" vector-effect="non-scaling-stroke"/>
<path d="M360,0 L520,180" fill="none" stroke="#111" stroke-width="1.20" vector-effect="non-scaling-stroke"/>
<path d="M100,520 L860,30" fill="none" stroke="#111" stroke-width="1.80" vector-effect="non-scaling-stroke"/>
<path d="M130,560 L880,60" fill="none" stroke="#111" stroke-width="1.40" vector-effect="non-scaling-stroke"/>
<path d="M230,470 L270,500 L740,220" fill="none" stroke="#111" stroke-width="1.80" vector-effect="non-scaling-stroke"/>
<path d="M730,180 L800,300 L790,400 L560,380" fill="none" stroke="#111" stroke-width="2.00" vector-effect="non-scaling-stroke"/>
<path d="M600,450 L800,620" fill="none" stroke="#111" stroke-width="1.80" vector-effect="non-scaling-stroke"/>
<path d="M820,380 L910,480" fill="none" stroke="#111" stroke-width="1.60" vector-effect="non-scaling-stroke"/>
<path d="M280,520 L250,650 L290,830" fill="none" stroke="#111" stroke-width="2.00" vector-effect="non-scaling-stroke"/>
<path d="M300,520 L280,650" fill="none" stroke="#111" stroke-width="1.20" vector-effect="non-scaling-stroke"/>
<path d="M400,500 L620,700" fill="none" stroke="#111" stroke-width="2.00" vector-effect="non-scaling-stroke"/>
<path d="M500,500 L640,690" fill="none" stroke="#111" stroke-width="1.80" vector-effect="non-scaling-stroke"/>
<path d="M520,480 L560,460 L610,520" fill="none" stroke="#111" stroke-width="1.40" vector-effect="non-scaling-stroke"/>
<path d="M150,680 L380,880" fill="none" stroke="#111" stroke-width="1.80" vector-effect="non-scaling-stroke"/>
<path d="M180,660 L400,850" fill="none" stroke="#111" stroke-width="1.30" vector-effect="non-scaling-stroke"/>
<path d="M430,780 C470,730 530,710 580,740" fill="none" stroke="#111" stroke-width="2.20" vector-effect="non-scaling-stroke"/>
<path d="M450,280 L500,270 L540,300 L490,320 Z" fill="#222" stroke="#111" stroke-width="1.00" vector-effect="non-scaling-stroke"/>
<path d="M560,250 L600,240 L640,270 L600,290 Z" fill="#222" stroke="#111" stroke-width="1.00" vector-effect="non-scaling-stroke"/>
<path d="M470,420 L540,400 L560,440 L500,460 Z" fill="#333" stroke="#111" stroke-width="1.00" vector-effect="non-scaling-stroke"/>
<path d="M540,780 L600,760 L620,800 L560,820 Z" fill="#333" stroke="#111" stroke-width="1.00" vector-effect="non-scaling-stroke"/>
</g>
<ellipse class="k" cx="822" cy="732" rx="4.2" ry="5" transform="rotate(30 822 732)"/>
<ellipse class="k" cx="812.7" cy="762" rx="4.3" ry="5" transform="rotate(35 812.7 762)"/>
<ellipse cx="813" cy="763" rx="1.2" ry="1.6" fill="#fff" transform="rotate(35 813 763)"/>
<g transform="translate(820 715) scale(0.1121327651939897)" style="stroke-linejoin:round">
<path d="M210,190 L440,60 L530,150 L620,300 C660,350 670,400 670,500 L660,620 L620,740 L600,830 L440,930 L360,960 L190,800 L70,690 L120,660 L320,590 L420,480 L280,300 Z" fill="#fff" stroke="#111" stroke-width="1.80" vector-effect="non-scaling-stroke"/>
<path d="M170,230 L210,190 L250,200 L280,300 L240,320 L200,300 Z" fill="#fff" stroke="#111" stroke-width="1.80" vector-effect="non-scaling-stroke"/>
<path d="M400,90 L440,50 L480,60 L530,140 L500,170 Z" fill="#fff" stroke="#111" stroke-width="1.80" vector-effect="non-scaling-stroke"/>
<path d="M250,200 L420,100" fill="none" stroke="#111" stroke-width="1.50" vector-effect="non-scaling-stroke"/>
<path d="M230,260 L440,150 L520,150" fill="none" stroke="#111" stroke-width="1.30" vector-effect="non-scaling-stroke"/>
<path d="M335,245 C420,300 470,370 455,480.0" fill="none" stroke="#111" stroke-width="3.60" vector-effect="non-scaling-stroke"/>
<path d="M355,232 C440,290 490,360 478,475.0" fill="none" stroke="#111" stroke-width="2.20" vector-effect="non-scaling-stroke"/>
<path d="M387,223 C472,278 522,348 507,473.4" fill="none" stroke="#111" stroke-width="3.60" vector-effect="non-scaling-stroke"/>
<path d="M407,210 C492,268 542,338 530,468.4" fill="none" stroke="#111" stroke-width="2.20" vector-effect="non-scaling-stroke"/>
<path d="M439,201 C524,256 574,326 559,466.8" fill="none" stroke="#111" stroke-width="3.60" vector-effect="non-scaling-stroke"/>
<path d="M459,188 C544,246 594,316 582,461.8" fill="none" stroke="#111" stroke-width="2.20" vector-effect="non-scaling-stroke"/>
<path d="M491,179 C576,234 626,304 611,460.2" fill="none" stroke="#111" stroke-width="3.60" vector-effect="non-scaling-stroke"/>
<path d="M511,166 C596,224 646,294 634,455.2" fill="none" stroke="#111" stroke-width="2.20" vector-effect="non-scaling-stroke"/>
<path d="M480,160 C600,250 660,320 670,420 L670,500" fill="none" stroke="#111" stroke-width="1.80" vector-effect="non-scaling-stroke"/>
</g>
<g transform="translate(825 760) scale(0.07315288953913679)" style="stroke-linejoin:round">
<path d="M30,470 L110,400 L380,240 L560,100 L660,90 L950,150 C990,250 990,400 900,520 L850,650 L600,820 L560,880 L450,870 L160,620 Z" fill="#fff" stroke="#111" stroke-width="1.60" vector-effect="non-scaling-stroke"/>
<path d="M30,470 L110,400 L220,540 L160,620 Z" fill="#fff" stroke="#111" stroke-width="1.80" vector-effect="non-scaling-stroke"/>
<path d="M150,430 L460,740" fill="none" stroke="#111" stroke-width="3.00" vector-effect="non-scaling-stroke"/>
<path d="M160,420 L460,270" fill="none" stroke="#111" stroke-width="1.30" vector-effect="non-scaling-stroke"/>
<path d="M390,220 L450,190 L520,260 L470,290 Z" fill="#fff" stroke="#111" stroke-width="1.60" vector-effect="non-scaling-stroke"/>
<path d="M200,430 L290,520 L300,370" fill="none" stroke="#111" stroke-width="1.30" vector-effect="non-scaling-stroke"/>
<path d="M160,620 L450,870 L560,880" fill="none" stroke="#111" stroke-width="1.80" vector-effect="non-scaling-stroke"/>
<path d="M560,100 L660,90 L680,300 L590,380 Z" fill="#111" stroke="#111" stroke-width="1.20" vector-effect="non-scaling-stroke"/>
<path d="M600,180 L640,170 L650,290 L610,320 Z" fill="#fff" stroke="#111" stroke-width="1.00" vector-effect="non-scaling-stroke"/>
<path d="M540,270 C450,330 420,450 440,560 C460,650 500,720 560,760" fill="none" stroke="#111" stroke-width="2.40" vector-effect="non-scaling-stroke"/>
<path d="M590,380 C500,430 480,520 500,600 C520,660 560,700 600,720" fill="none" stroke="#111" stroke-width="2.00" vector-effect="non-scaling-stroke"/>
<path d="M680,280 L950,150 L970,200 L700,350 Z" fill="#fff" stroke="#111" stroke-width="1.80" vector-effect="non-scaling-stroke"/>
<ellipse cx="740" cy="480" rx="150" ry="80" fill="#fff" stroke="#111" stroke-width="2.2" vector-effect="non-scaling-stroke" transform="rotate(-30 740 480)"/>
<ellipse cx="740" cy="480" rx="100" ry="50" fill="none" stroke="#111" stroke-width="1.6" vector-effect="non-scaling-stroke" transform="rotate(-30 740 480)"/>
<path d="M640,520 L700,440 M690,500 L750,420" fill="none" stroke="#111" stroke-width="1.40" vector-effect="non-scaling-stroke"/>
<path d="M580,620 L870,520 L890,580 L600,680 Z" fill="#fff" stroke="#111" stroke-width="1.80" vector-effect="non-scaling-stroke"/>
<circle cx="620" cy="780" r="32" fill="#fff" stroke="#111" stroke-width="1.6" vector-effect="non-scaling-stroke"/>
<circle cx="700" cy="740" r="32" fill="#fff" stroke="#111" stroke-width="1.6" vector-effect="non-scaling-stroke"/>
<circle cx="780" cy="700" r="32" fill="#fff" stroke="#111" stroke-width="1.6" vector-effect="non-scaling-stroke"/>
<path d="M950,150 C990,250 960,400 880,500" fill="none" stroke="#111" stroke-width="2.00" vector-effect="non-scaling-stroke"/>
<path d="M560,880 L600,820 L850,650" fill="none" stroke="#111" stroke-width="1.60" vector-effect="non-scaling-stroke"/>
</g>
<line x1="945.9" y1="833.9" x2="952.5" y2="828.2" stroke="#111" stroke-width="5.2" stroke-linecap="round"/>
<circle class="k" cx="945.9" cy="833.9" r="4.4"/>
<line x1="934.5" y1="846.6" x2="944.6" y2="840" stroke="#111" stroke-width="5.800000000000001" stroke-linecap="round"/>
<line x1="934.5" y1="846.6" x2="944.6" y2="840" stroke="#fff" stroke-width="3.0000000000000004" stroke-linecap="round"/>
<circle class="k" cx="934.5" cy="846.6" r="3.6"/>
<circle cx="934.5" cy="846.6" r="1.6" fill="#fff"/>
</svg></body></html>
